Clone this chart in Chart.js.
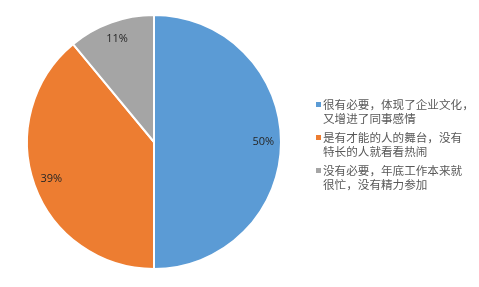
<!DOCTYPE html>
<html>
<head>
<meta charset="utf-8">
<script src="https://cdn.jsdelivr.net/npm/chart.js@4"></script>
<style>
  html, body { margin: 0; padding: 0; background: #fff; }
  #wrap { position: relative; width: 479px; height: 287px; }
  #legend {
    position: absolute; left: 316px; top: 97px;
    font-family: "Noto Sans CJK SC", sans-serif; font-size: 11.6px;
    color: #595959; line-height: 14px;
  }
  .item { position: relative; padding-left: 7px; margin-bottom: 5px; white-space: nowrap; }
  .box { position: absolute; left: 0; top: 5px; width: 5px; height: 5px; }
</style>
</head>
<body>
<div id="wrap">
  <canvas id="pie" width="479" height="287"></canvas>
  <div id="legend"></div>
</div>
<script>
// Survey answers - each label is split into its two legend lines
const categories = [
  ["很有必要，体现了企业文化，", "又增进了同事感情"],
  ["是有才能的人的舞台，没有", "特长的人就看看热闹"],
  ["没有必要，年底工作本来就", "很忙，没有精力参加"],
];
const values = [50, 39, 11];
const colors = ["#5B9BD5", "#ED7D31", "#A5A5A5"];

// Percent labels inside the slices
const sliceLabels = {
  id: "sliceLabels",
  afterDatasetsDraw(chart) {
    const ctx = chart.ctx;
    const meta = chart.getDatasetMeta(0);
    const total = values.reduce((a, b) => a + b, 0);
    ctx.save();
    ctx.font = "11px 'Open Sans', sans-serif";
    ctx.fillStyle = "#262626";
    ctx.textAlign = "center";
    ctx.textBaseline = "middle";
    meta.data.forEach((arc, i) => {
      const p = arc.getProps(["x", "y", "startAngle", "endAngle", "outerRadius"], true);
      const mid = (p.startAngle + p.endAngle) / 2;
      const d = p.outerRadius * 0.86;
      const pct = Math.round(values[i] / total * 100) + "%";
      ctx.fillText(pct, p.x + Math.cos(mid) * d, p.y + Math.sin(mid) * d);
    });
    ctx.restore();
  },
};

new Chart(document.getElementById("pie"), {
  type: "pie",
  data: {
    labels: categories.map((c) => c.join("")),
    datasets: [
      {
        data: values,
        backgroundColor: colors,
        borderColor: "#ffffff",
        borderWidth: 2,
      },
    ],
  },
  options: {
    responsive: false,
    animation: false,
    layout: { padding: { top: 14, bottom: 17, left: 26, right: 197 } },
    plugins: {
      legend: { display: false },
      tooltip: { enabled: false },
    },
  },
  plugins: [sliceLabels],
});

// HTML legend
const legend = document.getElementById("legend");
categories.forEach((lines, i) => {
  const item = document.createElement("div");
  item.className = "item";
  const box = document.createElement("span");
  box.className = "box";
  box.style.background = colors[i];
  item.appendChild(box);
  item.append(lines[0]);
  item.appendChild(document.createElement("br"));
  item.append(lines[1]);
  legend.appendChild(item);
});
</script>
</body>
</html>
